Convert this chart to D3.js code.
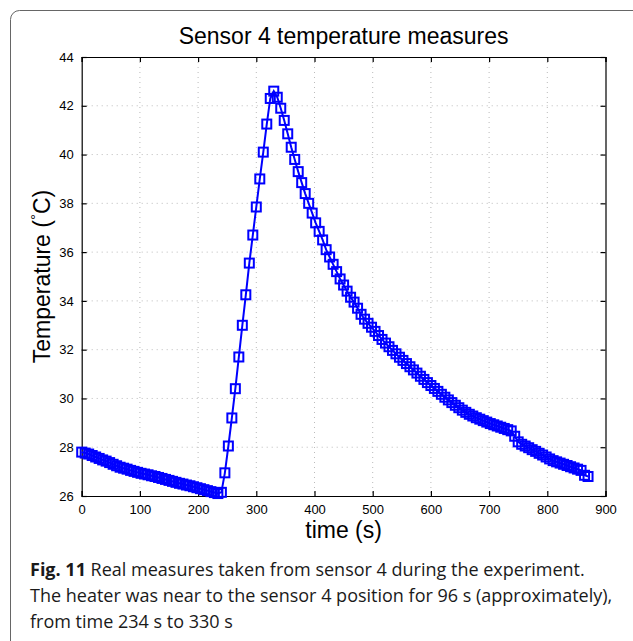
<!DOCTYPE html>
<html>
<head>
  <meta charset="utf-8">
  <script src="https://d3js.org/d3.v7.min.js"></script>
  <style>
    body { margin: 0; background: #fff; }
    svg { display: block; }
    .tick text { font-family: "Liberation Sans", Arial, sans-serif; }
  </style>
</head>
<body>
  <svg width="633" height="641"></svg>

  <script>
    // sample times (s)
    var times = [
      0, 6, 12, 18, 24, 30, 36, 42, 48, 54, 60, 66, 72, 78, 84, 90, 96, 102, 108, 114,
      120, 126, 132, 138, 144, 150, 156, 162, 168, 174, 180, 186, 192, 198, 204, 210, 216, 222, 228, 234,
      240, 246, 252, 258, 264, 270, 276, 282, 288, 294, 300, 306, 312, 318, 324, 330,
      336, 342, 348, 354, 360, 366, 372, 378, 384, 390, 396, 402, 408, 414, 420, 426, 432, 438, 444, 450,
      456, 462, 468, 474, 480, 486, 492, 498, 504, 510, 516, 522, 528, 534, 540, 546, 552, 558, 564, 570,
      576, 582, 588, 594, 600, 606, 612, 618, 624, 630, 636, 642, 648, 654, 660, 666, 672, 678, 684, 690,
      696, 702, 708, 714, 720, 726, 732, 738, 744, 750, 756, 762, 768, 774, 780, 786, 792, 798, 804, 810,
      816, 822, 828, 834, 840, 846, 852, 858, 864, 870
    ];

    // sensor 4 temperature (deg C)
    var temps = [
      27.80, 27.76, 27.72, 27.66, 27.60, 27.54, 27.48, 27.43, 27.37, 27.30, 27.24, 27.18, 27.14, 27.10, 27.05, 27.01, 26.97, 26.93, 26.90, 26.87,
      26.83, 26.80, 26.76, 26.72, 26.68, 26.64, 26.60, 26.56, 26.52, 26.49, 26.45, 26.42, 26.38, 26.34, 26.30, 26.26, 26.22, 26.18, 26.14, 26.10,
      26.15, 26.95, 28.05, 29.20, 30.40, 31.70, 33.00, 34.25, 35.55, 36.70, 37.85, 39.00, 40.10, 41.25, 42.30, 42.60,
      42.35, 41.90, 41.40, 40.85, 40.30, 39.80, 39.30, 38.85, 38.40, 38.00, 37.60, 37.20, 36.85, 36.50, 36.10, 35.80, 35.50, 35.20, 34.90, 34.65,
      34.40, 34.15, 33.95, 33.70, 33.45, 33.25, 33.08, 32.92, 32.75, 32.58, 32.42, 32.27, 32.12, 31.97, 31.83, 31.69, 31.56, 31.43, 31.30, 31.17,
      31.04, 30.91, 30.78, 30.65, 30.53, 30.41, 30.29, 30.17, 30.05, 29.94, 29.83, 29.72, 29.62, 29.52, 29.43, 29.35, 29.28, 29.21, 29.15, 29.09,
      29.03, 28.97, 28.92, 28.87, 28.82, 28.77, 28.72, 28.67, 28.45, 28.22, 28.12, 28.05, 27.98, 27.90, 27.83, 27.75, 27.68, 27.60, 27.52, 27.45,
      27.40, 27.35, 27.30, 27.25, 27.20, 27.15, 27.10, 27.05, 26.85, 26.80
    ];

    var xTicks = [0, 100, 200, 300, 400, 500, 600, 700, 800, 900];
    var yTicks = [26, 28, 30, 32, 34, 36, 38, 40, 42, 44];

    var captionLines = [
      [{ t: "Fig. 11", b: true }, { t: " Real measures taken from sensor 4 during the experiment.", b: false }],
      [{ t: "The heater was near to the sensor 4 position for 96 s (approximately),", b: false }],
      [{ t: "from time 234 s to 330 s", b: false }]
    ];

    var data = times.map((t, i) => ({ t: t, v: temps[i] }));

    var svg = d3.select("svg");
    var pLeft = 81.7, pRight = 605.5, pTop = 57, pBottom = 496;

    var x = d3.scaleLinear().domain([0, 900]).range([pLeft, pRight]);
    var y = d3.scaleLinear().domain([26, 44]).range([pBottom, pTop]);

    // outer frame
    svg.append("rect")
      .attr("x", 10.5).attr("y", 10.5)
      .attr("width", 720).attr("height", 720)
      .attr("rx", 9)
      .attr("fill", "none")
      .attr("stroke", "#666")
      .attr("stroke-width", 1);

    // grid
    var grid = svg.append("g").attr("stroke", "#bbb").attr("stroke-dasharray", "1,4").attr("stroke-width", 1);
    grid.selectAll(".vx").data(xTicks.slice(1, -1)).enter().append("line")
      .attr("x1", d => x(d)).attr("x2", d => x(d))
      .attr("y1", pTop).attr("y2", pBottom);
    grid.selectAll(".hy").data(yTicks.slice(1, -1)).enter().append("line")
      .attr("x1", pLeft).attr("x2", pRight)
      .attr("y1", d => y(d)).attr("y2", d => y(d));

    // axes (inward ticks, MATLAB style)
    var fontSize = 13;
    svg.append("g").attr("transform", `translate(0,${pBottom})`)
      .call(d3.axisBottom(x).tickValues(xTicks).tickSize(-5).tickPadding(9))
      .call(g => g.selectAll("text").attr("font-size", fontSize).attr("fill", "#000"));
    svg.append("g").attr("transform", `translate(0,${pTop})`)
      .call(d3.axisTop(x).tickValues(xTicks).tickSize(-5).tickFormat(""));
    svg.append("g").attr("transform", `translate(${pLeft},0)`)
      .call(d3.axisLeft(y).tickValues(yTicks).tickSize(-5).tickPadding(8))
      .call(g => g.selectAll("text").attr("font-size", fontSize).attr("fill", "#000"));
    svg.append("g").attr("transform", `translate(${pRight},0)`)
      .call(d3.axisRight(y).tickValues(yTicks).tickSize(-5).tickFormat(""));
    svg.selectAll(".domain").attr("stroke", "#000").attr("stroke-width", 1.2);
    svg.selectAll(".tick line").attr("stroke", "#000").attr("stroke-width", 1.2);

    // line + square markers
    var line = d3.line().x(d => x(d.t)).y(d => y(d.v));
    svg.append("path")
      .datum(data)
      .attr("d", line)
      .attr("fill", "none")
      .attr("stroke", "#0000ff")
      .attr("stroke-width", 2);

    var ms = 9;
    svg.append("g").selectAll("rect").data(data).enter().append("rect")
      .attr("x", d => x(d.t) - ms / 2)
      .attr("y", d => y(d.v) - ms / 2)
      .attr("width", ms).attr("height", ms)
      .attr("fill", "none")
      .attr("stroke", "#0000ff")
      .attr("stroke-width", 2);

    // title and axis labels
    var labelFont = "'Liberation Sans', Arial, Helvetica, sans-serif";
    svg.append("text")
      .attr("x", (pLeft + pRight) / 2).attr("y", 44)
      .attr("text-anchor", "middle")
      .attr("font-family", labelFont).attr("font-size", 23)
      .text("Sensor 4 temperature measures");

    svg.append("text")
      .attr("x", (pLeft + pRight) / 2).attr("y", 538)
      .attr("text-anchor", "middle")
      .attr("font-family", labelFont).attr("font-size", 23)
      .text("time (s)");

    var yl = svg.append("text")
      .attr("transform", `translate(50,${(pTop + pBottom) / 2}) rotate(-90)`)
      .attr("text-anchor", "middle")
      .attr("font-family", labelFont).attr("font-size", 23);
    yl.append("tspan").text("Temperature (");
    yl.append("tspan").attr("font-size", 15).attr("dy", -9).text("\u00b0");
    yl.append("tspan").attr("dy", 9).text("C)");

    // caption
    var cap = svg.append("g").attr("font-family", "'Open Sans', 'Noto Sans', sans-serif").attr("font-size", 18).attr("fill", "#1a1a1a");
    captionLines.forEach((parts, i) => {
      var t = cap.append("text").attr("x", 30).attr("y", 576 + i * 26);
      parts.forEach(p => t.append("tspan").attr("font-weight", p.b ? "bold" : "normal").text(p.t));
    });
  </script>
</body>
</html>
